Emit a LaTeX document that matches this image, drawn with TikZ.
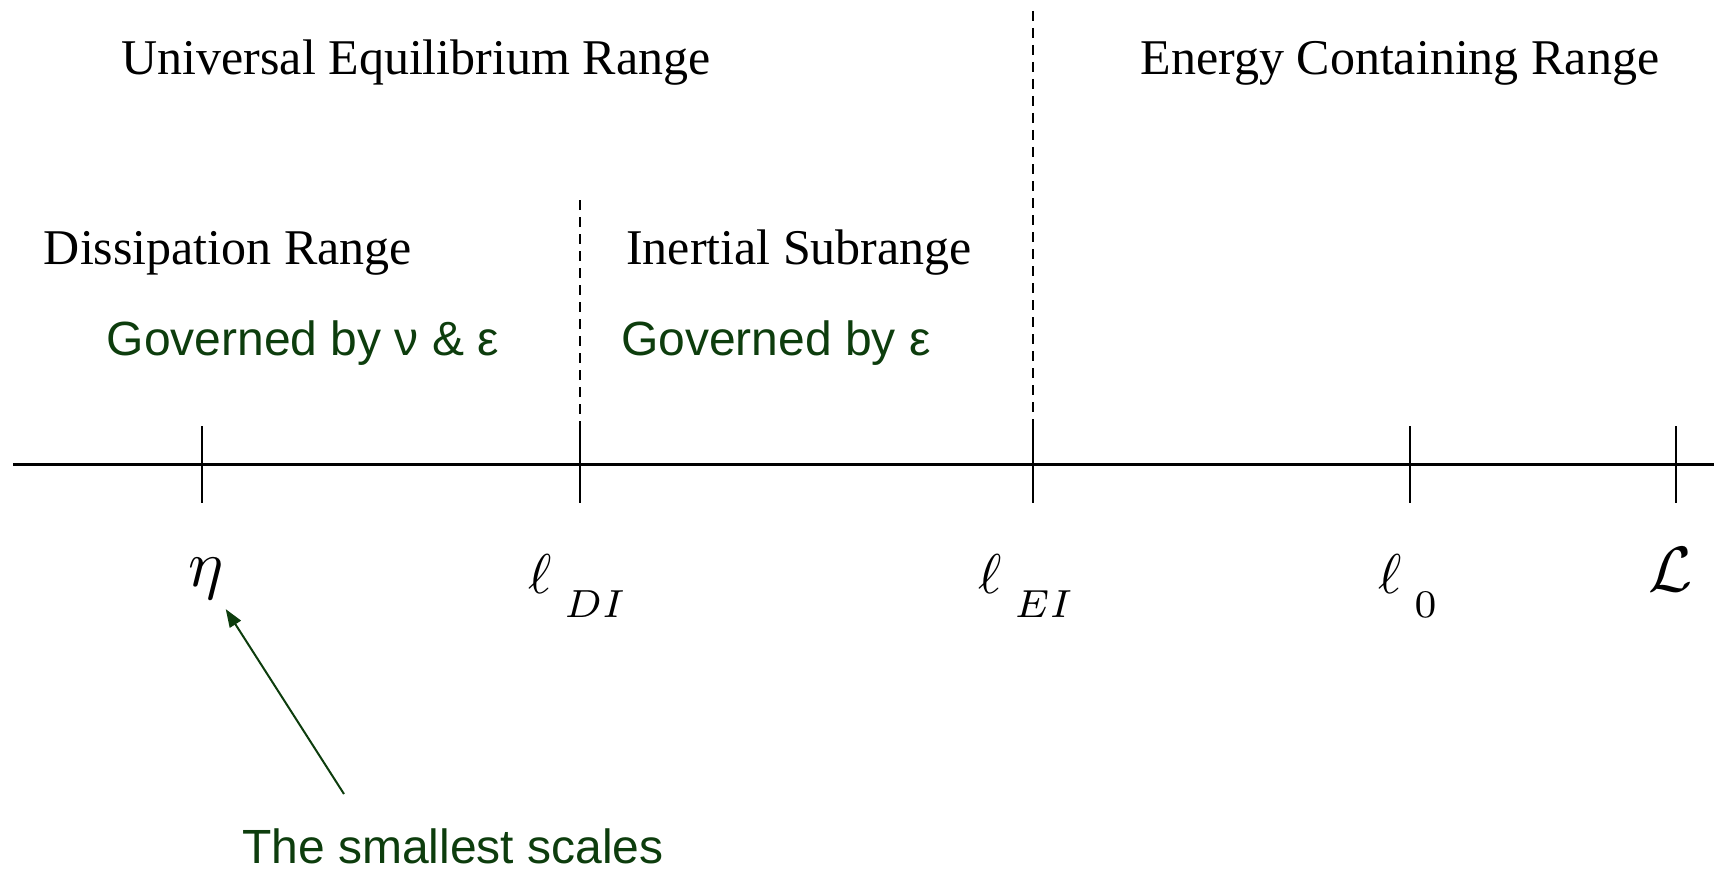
\documentclass[tikz,border=0pt]{standalone}
\usepackage{amsmath,amssymb}
\usepackage{graphicx}
\usepackage{fontspec}
\setmainfont{Liberation Serif}
\newfontfamily\arialfont{Liberation Sans}
\usepackage{xcolor}
\usepackage{tikz}
\usetikzlibrary{calc,arrows.meta}
\definecolor{govgreen}{HTML}{0D3D0D}
\newcommand{\lowsub}[1]{\lower2.9pt\hbox{$\scriptstyle #1$}}
\tikzset{
	rangetxt/.style={anchor=base,font=\fontsize{50}{60}\selectfont},
	govtxt/.style={anchor=base,text=govgreen,font=\arialfont\fontsize{48}{58}\selectfont},
	scalelbl/.style={anchor=base},
	scaletick/.style={line width=2.4pt},
	divline/.style={line width=2pt,dash pattern=on 10pt off 7pt}
}

\begin{document}
\begin{tikzpicture}[x=1pt,y=-1pt,>={Triangle[length=18pt,width=13pt]}]
	  \useasboundingbox (0,0) rectangle (1721,872);
	  \coordinate (A) at (13,464); \coordinate (B) at (1714,464);
	  \draw[line width=3pt](A)--(B);
	  \draw[divline](580,200)--(580,426);
	  \draw[divline](1033,11)--(1033,426);
	  \draw[scaletick](202,426)--(202,503);
	  \draw[scaletick](580,426)--(580,503);
	  \draw[scaletick](1033,426)--(1033,503);
	  \draw[scaletick](1410,426)--(1410,503);
	  \draw[scaletick](1676,426)--(1676,503);
	  \node[rangetxt] (uer) at (416,75) {Universal Equilibrium Range};
	  \node[rangetxt] (ecr) at (1400,75) {Energy Containing Range};
	  \node[rangetxt] (dr) at (228,264) {Dissipation Range};
	  \node[rangetxt] (isr) at (799,264) {Inertial Subrange};
	  \node[govtxt] (gnu) at (303,355) {Governed by ν \& ε};
	  \node[govtxt] (geps) at (776,355) {Governed by ε};
	  \node[scalelbl] (eta) at (206,586) {\scalebox{6.6}{$\eta$}};
	  \node[scalelbl] (ldi) at (578,593) {\scalebox{5.6}{$\ell_{\;\lowsub{DI}}$}};
	  \node[scalelbl] (lei) at (1027,593) {\scalebox{5.6}{$\ell_{\;\lowsub{EI}}$}};
	  \node[scalelbl] (lzero) at (1409,593) {\scalebox{5.6}{$\ell_{\;\lowsub{0}}$}};
	  \node[scalelbl] (Lbig) at (1671,591) {\scalebox{6.4}{$\mathcal{L}$}};
	  \node[govtxt,inner sep=0pt] (small) at (453,863) {The smallest scales};
	  \coordinate (tail) at (344,794);
	  \draw[->,govgreen,line width=2pt,shorten >=8pt](tail)--(eta);
	\end{tikzpicture}
\end{document}
